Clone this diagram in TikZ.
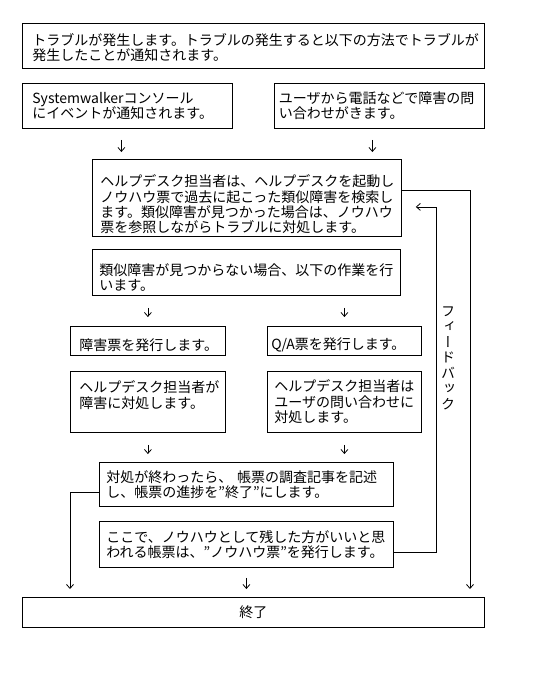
\documentclass[tikz,border=0pt]{standalone}
\usepackage{fontspec}
\setmainfont{Noto Sans CJK JP}
\newfontfamily\jpvert[RawFeature=+vert]{Noto Sans CJK JP}
\usepackage{tikz}
\usetikzlibrary{arrows.meta}

\begin{document}
\begin{tikzpicture}[x=1pt, y=-1pt,
  box/.style={draw, line width=0.8pt, anchor=north west, align=left, inner ysep=1pt,
    font=\fontsize{14pt}{15.3pt}\selectfont},
  flow/.style={-{Straight Barb[length=4pt, width=7pt]}, line width=0.8pt},
  fbtext/.style={align=center, inner sep=0pt, font=\jpvert\fontsize{14pt}{15.5pt}\selectfont}]
  \useasboundingbox (0,0) rectangle (537,673);

  \node[box, text width=442pt, inner xsep=10pt, minimum height=45pt, text height=16pt] (trouble) at (22,23)
    {トラブルが発生します。トラブルの発生すると以下の方法でトラブルが\\発生したことが通知されます。};

  \node[box, text width=190pt, inner xsep=10pt, minimum height=45pt] (swk) at (22,83)
    {Systemwalkerコンソール\\にイベントが通知されます。};
  \node[box, text width=201pt, inner xsep=4.5pt, minimum height=45pt] (user) at (274,83)
    {ユーザから電話などで障害の問\\い合わせがきます。};

  \node[box, text width=293pt, inner xsep=8pt, minimum height=77pt, text height=25pt] (search) at (92,159)
    {ヘルプデスク担当者は、ヘルプデスクを起動し\\ノウハウ票で過去に起こった類似障害を検索し\\ます。類似障害が見つかった場合は、ノウハウ\\票を参照しながらトラブルに対処します。};

  \node[box, text width=294pt, inner xsep=7pt, minimum height=46pt, text height=22pt] (nomatch) at (92,249)
    {類似障害が見つからない場合、以下の作業を行\\います。};

  \node[box, text width=137pt, inner xsep=9pt, minimum height=29pt, text height=20pt] (fault) at (70,326)
    {障害票を発行します。};
  \node[box, text width=146pt, inner xsep=4pt, minimum height=29pt, text height=20pt] (qa) at (267,326)
    {Q/A票を発行します。};

  \node[box, text width=137pt, inner xsep=9pt, minimum height=61pt, text depth=30pt] (lhelp) at (70,371)
    {ヘルプデスク担当者が\\障害に対処します。};
  \node[box, text width=140pt, inner xsep=7pt, minimum height=61pt] (rhelp) at (267,371)
    {ヘルプデスク担当者は\\ユーザの問い合わせに\\対処します。};

  \node[box, text width=280pt, inner xsep=7pt, minimum height=44pt] (report) at (99,462)
    {対処が終わったら、 帳票の調査記事を記述\\し、帳票の進捗を”終了”にします。};
  \node[box, text width=280pt, inner xsep=7pt, minimum height=46pt] (knowhow) at (99,521)
    {ここで、ノウハウとして残した方がいいと思\\われる帳票は、”ノウハウ票”を発行します。};

  \node[box, minimum width=462pt, minimum height=30pt, align=center] (finish) at (22,597) {終了};

  \node[fbtext] (fblabel) at (448,358) {フ\\ィ\\ー\\ド\\バ\\ッ\\ク};

  \coordinate (lx) at (70,0);
  \coordinate (rx) at (470,0);
  \coordinate (fx) at (436,0);

  \draw[flow, shorten <=11pt, shorten >=7pt] ([xshift=-6pt]swk.south) -- ([xshift=-6pt]swk.south |- search.north);
  \draw[flow, shorten <=11pt, shorten >=7pt] ([xshift=-7pt]user.south) -- ([xshift=-7pt]user.south |- search.north);
  \draw[flow, shorten <=12pt, shorten >=9pt] (fault.north |- nomatch.south) -- (fault.north);
  \draw[flow, shorten <=12pt, shorten >=9pt] (qa.north |- nomatch.south) -- (qa.north);
  \draw[flow, shorten <=12pt, shorten >=8pt] (lhelp.south) -- (lhelp.south |- report.north);
  \draw[flow, shorten <=12pt, shorten >=8pt] (rhelp.south) -- (rhelp.south |- report.north);
  \draw[flow, shorten <=10pt, shorten >=8pt] (knowhow.south) -- (knowhow.south |- finish.north);

  \draw[flow, shorten >=8pt] ([yshift=-8pt]report.west) -| (lx |- finish.north);
  \draw[flow, shorten >=8pt] ([yshift=8pt]search.east) -| (rx |- finish.north);
  \draw[flow, shorten >=14pt] ([yshift=-8pt]knowhow.east) -| ([yshift=-9pt]search.east -| fx) -- ([yshift=-9pt]search.east);
\end{tikzpicture}
\end{document}
